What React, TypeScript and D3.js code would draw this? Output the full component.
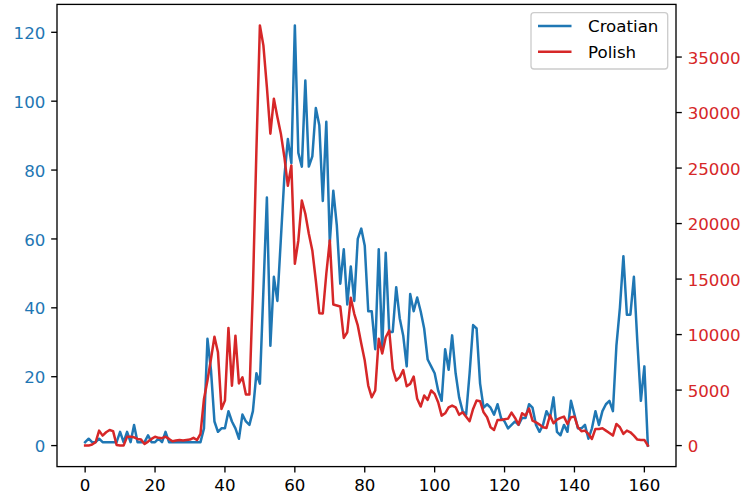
import React from "react";
import * as d3 from "d3";

const croatian: number[] = [
  1, 2, 1, 1, 2, 1, 1, 1, 1, 1, 4, 1, 4, 1, 6, 1, 1, 1, 3, 1,
  1, 2, 1, 4, 1, 1, 1, 1, 1, 1, 1, 1, 1, 1, 5, 31, 22, 7, 4, 5,
  5, 10, 7, 5, 2, 9, 7, 6, 10, 21, 18, 45, 72, 29, 49, 42, 60, 78, 89, 82,
  122, 85, 81, 106, 81, 84, 98, 93, 71, 94, 59, 74, 64, 47, 57, 41, 52, 42, 60, 63,
  58, 39, 39, 28, 57, 28, 56, 33, 33, 46, 37, 32, 23, 44, 39, 43, 39, 34, 25, 23,
  21, 16, 13, 28, 22, 32, 21, 14, 10, 9, 21, 35, 34, 18, 11, 12, 11, 9, 12, 8,
  7, 5, 6, 7, 6, 8, 8, 12, 11, 6, 4, 6, 10, 8, 14, 4, 3, 6, 4, 13,
  9, 5, 5, 6, 2, 5, 10, 6, 10, 12, 13, 10, 29, 40, 55, 38, 38, 49, 30, 13,
  23, 0,
];

const polish: number[] = [
  0, 0, 100, 300, 1350, 900, 1200, 1400, 1300, 60, 0, 0, 800, 800, 750, 600, 540, 150, 360, 600,
  800, 700, 670, 800, 600, 390, 450, 500, 450, 500, 540, 700, 500, 1050, 4200, 5860, 7800, 9800, 8400, 3300,
  4050, 10600, 5400, 9900, 5600, 6150, 4600, 4600, 14100, 26560, 37850, 36050, 32300, 28100, 31250, 29600, 28100, 26000, 23400, 25240,
  16380, 18480, 22080, 20880, 19080, 17580, 14870, 11930, 11900, 15480, 18480, 12710, 12620, 12530, 9700, 10210, 13310, 11870, 10820, 9200,
  7660, 5410, 4350, 4960, 9620, 8300, 9760, 10370, 6910, 5860, 6160, 6800, 5350, 5560, 6220, 4210, 3520, 4510, 4120, 4960,
  4660, 3900, 2700, 2910, 3450, 3600, 3450, 2770, 3000, 2600, 2190, 3300, 4060, 4000, 3000, 2555, 1650, 1410, 2310, 2310,
  2370, 2430, 2970, 2490, 1890, 2910, 2700, 3330, 2250, 2100, 1890, 1650, 1590, 2730, 2010, 2340, 2490, 2610, 1950, 2555,
  2610, 1650, 1290, 1350, 1050, 600, 1500, 1500, 1560, 1350, 1140, 900, 1950, 1650, 1050, 1350, 1200, 900, 540, 510,
  510, 0,
];

const xTicks: number[] = [0, 20, 40, 60, 80, 100, 120, 140, 160];
const leftTicks: number[] = [0, 20, 40, 60, 80, 100, 120];
const rightTicks: number[] = [0, 5000, 10000, 15000, 20000, 25000, 30000, 35000];
const seriesNames: string[] = ["Croatian", "Polish"];

const BLUE = "#1f77b4";
const RED = "#d62728";
const FONT = "'DejaVu Sans', sans-serif";
const FS = 16.67;

export default function App() {
  const W = 743;
  const H = 498;
  const L = 57, R = 676, T = 4.4, B = 466.6;
  const n = croatian.length;
  const xPad = (n - 1) * 0.05;
  const x = d3.scaleLinear().domain([-xPad, n - 1 + xPad]).range([L, R]);
  const cMax = d3.max(croatian) as number;
  const cMin = d3.min(croatian) as number;
  const cPad = (cMax - cMin) * 0.05;
  const yL = d3.scaleLinear().domain([cMin - cPad, cMax + cPad]).range([B, T]);
  const pMax = d3.max(polish) as number;
  const pMin = d3.min(polish) as number;
  const pPad = (pMax - pMin) * 0.05;
  const yR = d3.scaleLinear().domain([pMin - pPad, pMax + pPad]).range([B, T]);

  const lineC = d3.line<number>().x((_, i) => x(i)).y((d) => yL(d));
  const lineP = d3.line<number>().x((_, i) => x(i)).y((d) => yR(d));

  const tickLen = 5.83;
  const pad = 5.83;

  // legend
  const lgR = R - 8.3;
  const lgT = T + 8.3;
  const lgL = 531;
  const lgB = 69;

  return (
    <svg width={W} height={H} style={{ position: "absolute", left: 0, top: 0 }} fontFamily={FONT}>
      <rect x={0} y={0} width={W} height={H} fill="#ffffff" />
      <path d={lineC(croatian) || ""} fill="none" stroke={BLUE} strokeWidth={2.5} strokeLinejoin="round" strokeLinecap="square" />
      <path d={lineP(polish) || ""} fill="none" stroke={RED} strokeWidth={2.5} strokeLinejoin="round" strokeLinecap="square" />
      {/* spines */}
      <rect x={L} y={T} width={R - L} height={B - T} fill="none" stroke="#000" strokeWidth={1.33} />
      {/* x ticks */}
      {xTicks.map((t) => (
        <g key={"x" + t}>
          <line x1={x(t)} x2={x(t)} y1={B} y2={B + tickLen} stroke="#000" strokeWidth={1.33} />
          <text x={x(t)} y={B + tickLen + pad + 12.3} textAnchor="middle" fontSize={FS} fill="#000">
            {t}
          </text>
        </g>
      ))}
      {/* left ticks */}
      {leftTicks.map((t) => (
        <g key={"l" + t}>
          <line x1={L - tickLen} x2={L} y1={yL(t)} y2={yL(t)} stroke="#000" strokeWidth={1.33} />
          <text x={L - tickLen - pad} y={yL(t) + 6.6} textAnchor="end" fontSize={FS} fill={BLUE}>
            {t}
          </text>
        </g>
      ))}
      {/* right ticks */}
      {rightTicks.map((t) => (
        <g key={"r" + t}>
          <line x1={R} x2={R + tickLen} y1={yR(t)} y2={yR(t)} stroke="#000" strokeWidth={1.33} />
          <text x={R + tickLen + pad} y={yR(t) + 6.6} textAnchor="start" fontSize={FS} fill={RED}>
            {t}
          </text>
        </g>
      ))}
      {/* legend */}
      <rect x={lgL} y={lgT} width={lgR - lgL} height={lgB - lgT} rx={3} ry={3} fill="#ffffff" fillOpacity={0.8} stroke="#cccccc" strokeWidth={1.33} />
      {seriesNames.map((name, i) => {
        const cy = 26 + i * 25.7;
        const col = i === 0 ? BLUE : RED;
        return (
          <g key={name}>
            <line x1={538} x2={571.5} y1={cy} y2={cy} stroke={col} strokeWidth={2.5} />
            <text x={588} y={cy + 6.2} fontSize={FS} fill="#000">
              {name}
            </text>
          </g>
        );
      })}
    </svg>
  );
}
